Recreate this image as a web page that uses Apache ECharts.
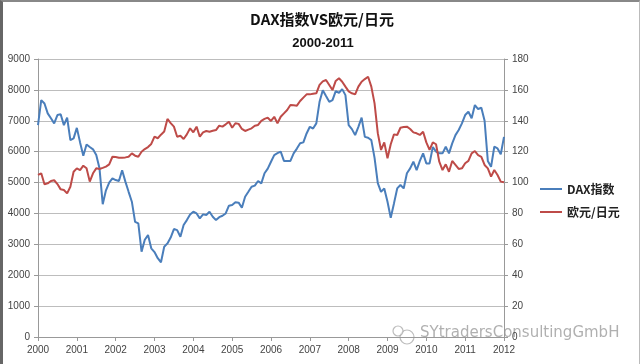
<!DOCTYPE html>
<html>
<head>
<meta charset="utf-8">
<script src="https://cdn.jsdelivr.net/npm/echarts@6/dist/echarts.min.js"></script>
<style>
html,body{margin:0;padding:0;background:#fff;}
#frame{position:absolute;left:0;top:0;width:640px;height:364px;box-sizing:border-box;border-left:3px solid #666;border-top:2px solid #888;border-right:1px solid #bbb;}
#chart{position:absolute;left:0;top:0;width:640px;height:364px;}
</style>
</head>
<body>
<div id="chart"></div>
<div id="frame"></div>
<script>
// Monthly data, Jan 2000 .. Jan 2012 (index = months since Jan 2000)
const yearLabels = ['2000','2001','2002','2003','2004','2005','2006','2007','2008','2009','2010','2011','2012'];
const leftTicks = [0,1000,2000,3000,4000,5000,6000,7000,8000,9000];
const rightTicks = [0,20,40,60,80,100,120,140,160,180];
const seriesNames = ['DAX指数', '欧元/日元'];
const daxValues = [
6860,7670,7560,7240,7080,6915,7185,7210,6860,7100,6375,6430,
6770,6300,5870,6235,6150,6075,5890,5460,4300,4750,5000,5136,
5080,5050,5400,5030,4700,4380,3730,3680,2760,3150,3300,2870,
2750,2550,2420,2920,3030,3220,3495,3460,3245,3625,3785,3965,
4055,4000,3840,3970,3950,4055,3895,3785,3880,3925,4000,4250,
4270,4360,4350,4185,4540,4700,4865,4900,5050,4975,5300,5450,
5675,5890,5950,6000,5700,5700,5700,5945,6100,6270,6300,6590,
6805,6750,6915,7615,7990,7800,7615,7670,7960,7900,8025,7830,
6860,6730,6535,6805,7100,6480,6450,6375,5800,4980,4700,4810,
4380,3860,4325,4810,4920,4810,5300,5460,5675,5400,5700,5945,
5620,5620,6150,6000,5945,5945,6160,5945,6270,6535,6700,6915,
7185,7290,7080,7510,7380,7420,7000,5700,5510,6160,6105,5915,
6480
];
const eurJpyValues = [
104.9,106,98.9,99.5,101,101.5,99,95.6,95.2,93,97.3,107,
109.2,108.1,110.9,109.2,100.6,106,109.2,108.8,109.5,110.3,111.8,116.7,
116.5,116.1,116.1,116.3,116.7,118.9,117.4,116.7,120,121.7,123,125,
129.7,128.7,131,133,141.2,138.5,136.2,129.7,130.3,128.2,131.2,135.1,
132.5,136.2,129.7,132.5,133.4,132.9,133.5,134,136.8,136.2,137.7,139.4,
135.5,138.4,138,134.7,133.4,134.3,135.1,136.8,137.3,140,141.2,142,
139.9,142.6,138.4,142.6,144.8,147,150.2,150,149.8,152.8,155,157.1,
157.1,157.5,157.8,163.2,165.5,166.4,163.2,159.9,165.8,167.5,165.3,162.1,
159,157.8,157.1,162.1,165.3,167,168.5,162.1,151.3,132,121.1,126,
115.7,124.8,131.2,130.8,135.5,136,136.2,134.7,132.5,131.9,130.8,132.9,
126,121.1,126,124.8,113.5,108.1,111.8,107,114,111.4,108.8,109.2,
112.5,114,118.9,120.4,117.8,116.7,111.4,109.2,103.8,108.1,104.9,100.6,
100.2
];

const toPairs = arr => arr.map((v, i) => [i, v]);
const chart = echarts.init(document.getElementById('chart'));
const axisLabelStyle = { color: '#444', fontSize: 10, fontFamily: 'Liberation Sans, Arial, sans-serif' };
chart.setOption({
  animation: false,
  backgroundColor: '#fff',
  title: [
    { text: 'DAX指数VS欧元/日元', left: 317, top: 7, textAlign: 'center',
      textStyle: { fontSize: 15, fontWeight: 'bold', color: '#111', fontFamily: 'Noto Sans CJK SC, sans-serif' } },
    { text: '2000-2011', left: 318, top: 32, textAlign: 'center',
      textStyle: { fontSize: 13, fontWeight: 'bold', color: '#111', fontFamily: 'Liberation Sans, Arial, sans-serif' } }
  ],
  legend: {
    orient: 'vertical', left: 535, top: 178, itemGap: 11, itemWidth: 22, itemHeight: 2,
    icon: 'rect',
    textStyle: { fontSize: 12, fontWeight: 'bold', color: '#222', fontFamily: 'Noto Sans CJK SC, sans-serif' },
    data: seriesNames
  },
  grid: { left: 38, right: 136, top: 59, bottom: 27, containLabel: false },
  xAxis: {
    type: 'value', min: 0, max: 144, interval: 12,
    axisLine: { show: true, lineStyle: { color: '#999' } },
    axisTick: { show: true, length: 4, lineStyle: { color: '#999' } },
    axisLabel: Object.assign({ margin: 8, formatter: v => yearLabels[v / 12] }, axisLabelStyle),
    splitLine: { show: false }
  },
  yAxis: [
    { type: 'value', min: leftTicks[0], max: leftTicks[leftTicks.length - 1], interval: 1000,
      axisLine: { show: true, lineStyle: { color: '#999' } },
      axisTick: { show: true, length: 4, lineStyle: { color: '#999' } },
      axisLabel: Object.assign({ margin: 8, formatter: v => String(v) }, axisLabelStyle),
      splitLine: { show: true, lineStyle: { color: '#bdbdbd', width: 1 } } },
    { type: 'value', min: rightTicks[0], max: rightTicks[rightTicks.length - 1], interval: 20, position: 'right',
      axisLine: { show: true, lineStyle: { color: '#999' } },
      axisTick: { show: true, length: 4, lineStyle: { color: '#999' } },
      axisLabel: Object.assign({ margin: 8, formatter: v => String(v) }, axisLabelStyle),
      splitLine: { show: false } }
  ],
  series: [
    { name: seriesNames[0], type: 'line', yAxisIndex: 0, data: toPairs(daxValues),
      showSymbol: false, symbol: 'none', lineStyle: { width: 2, color: '#4a7ebb' }, itemStyle: { color: '#4a7ebb' } },
    { name: seriesNames[1], type: 'line', yAxisIndex: 1, data: toPairs(eurJpyValues),
      showSymbol: false, symbol: 'none', lineStyle: { width: 2, color: '#be4b48' }, itemStyle: { color: '#be4b48' } }
  ],
  graphic: [
    { type: 'text', left: 420, top: 326, silent: true,
      style: { text: 'SYtradersConsultingGmbH', fontSize: 15, fill: 'rgba(150,150,150,0.75)', fontFamily: 'DejaVu Sans, sans-serif' } },
    { type: 'circle', shape: { cx: 407, cy: 337, r: 7 }, silent: true,
      style: { fill: 'none', stroke: 'rgba(160,160,160,0.7)', lineWidth: 1.2 } },
    { type: 'circle', shape: { cx: 398, cy: 331, r: 5 }, silent: true,
      style: { fill: 'rgba(255,255,255,0.6)', stroke: 'rgba(160,160,160,0.7)', lineWidth: 1.2 } }
  ]
});
</script>
</body>
</html>
